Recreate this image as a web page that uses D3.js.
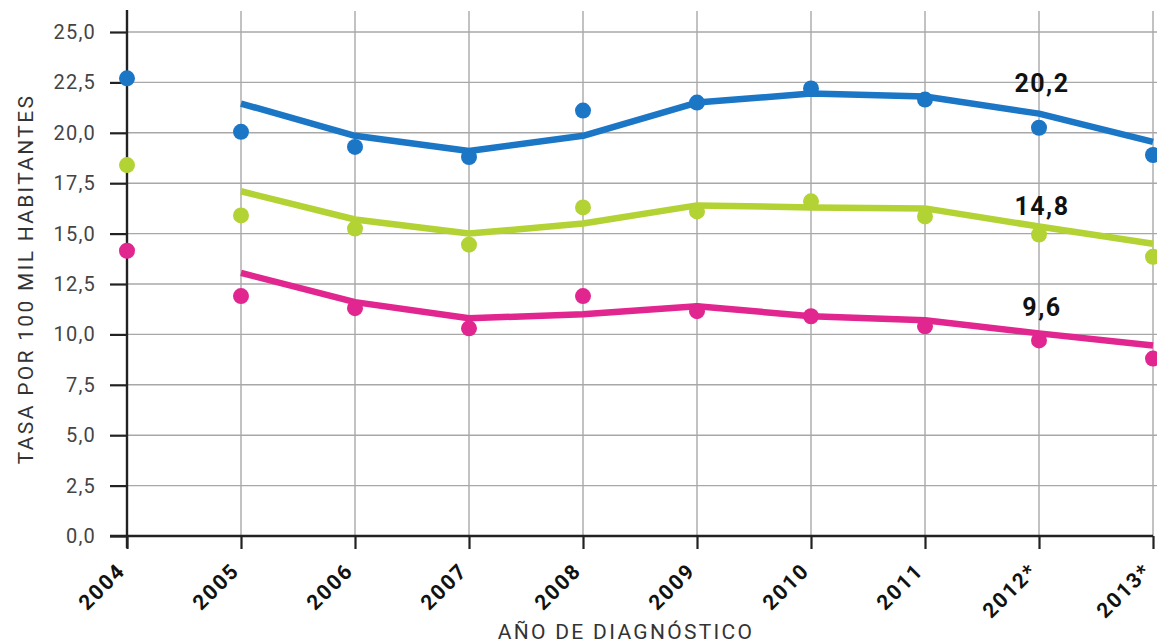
<!DOCTYPE html>
<html lang="es">
<head>
<meta charset="UTF-8">
<title>Tasa por 100 mil habitantes</title>
<style>
    body { margin: 0; padding: 0; background: #fff; }
    svg { display: block; }
    .grid line { stroke: #a8a8a8; stroke-width: 1.4px; }
    .ytick text { font-family: Roboto, "DejaVu Sans Condensed", sans-serif; font-size: 20px; fill: #444; letter-spacing: 1.2px; }
    .xtick text { font-family: Roboto, "DejaVu Sans Condensed", sans-serif; font-size: 21px; font-weight: bold; fill: #111; letter-spacing: 1.8px; }
    .title { font-family: Roboto, sans-serif; font-size: 21px; fill: #333; letter-spacing: 2.3px; }
    .endlabel { font-family: Roboto, sans-serif; font-size: 25px; font-weight: bold; fill: #111; letter-spacing: 1.5px; }
</style>
</head>
<body>
<svg id="chart" width="1157" height="643"></svg>

<script src="https://d3js.org/d3.v7.min.js"></script>
<script>
    // years on the x axis
    const years = ["2004", "2005", "2006", "2007", "2008", "2009", "2010", "2011", "2012*", "2013*"];
    const yTicks = [0, 2.5, 5, 7.5, 10, 12.5, 15, 17.5, 20, 22.5, 25];

    // observed rates (dots)
    const blueDots  = [22.7, 20.05, 19.3, 18.8, 21.1, 21.5, 22.2, 21.65, 20.25, 18.9];
    const greenDots = [18.4, 15.9, 15.25, 14.45, 16.3, 16.1, 16.6, 15.85, 14.95, 13.85];
    const pinkDots  = [14.15, 11.9, 11.3, 10.3, 11.9, 11.15, 10.9, 10.4, 9.7, 8.8];

    // trend lines (start at 2005)
    const blueLine  = [null, 21.45, 19.85, 19.1, 19.85, 21.5, 21.95, 21.8, 20.95, 19.55];
    const greenLine = [null, 17.1, 15.7, 15.0, 15.5, 16.4, 16.3, 16.25, 15.35, 14.5];
    const pinkLine  = [null, 13.05, 11.6, 10.8, 11.0, 11.4, 10.9, 10.7, 10.05, 9.45];

    const endLabels = ["20,2", "14,8", "9,6"];

    const series = [
        { color: "#1b76c6", dots: blueDots, line: blueLine, label: endLabels[0], labelValue: 22.0 },
        { color: "#b3d234", dots: greenDots, line: greenLine, label: endLabels[1], labelValue: 15.9 },
        { color: "#e1268f", dots: pinkDots, line: pinkLine, label: endLabels[2], labelValue: 10.9 }
    ];

    const svg = d3.select("#chart");
    const mLeft = 127, mRight = 1153, mTop = 32, mBottom = 536;

    const x = d3.scalePoint().domain(years).range([mLeft, mRight]);
    const y = d3.scaleLinear().domain([0, 25]).range([mBottom, mTop]);
    const fmt = d => d.toFixed(1).replace(".", ",");

    // horizontal grid
    svg.append("g").attr("class", "grid")
        .selectAll("line").data(yTicks.filter(d => d > 0)).enter().append("line")
        .attr("x1", mLeft).attr("x2", 1157)
        .attr("y1", d => y(d)).attr("y2", d => y(d));

    // vertical grid
    svg.append("g").attr("class", "grid")
        .selectAll("line").data(years.slice(1)).enter().append("line")
        .attr("x1", d => x(d)).attr("x2", d => x(d))
        .attr("y1", 11).attr("y2", mBottom);

    // y axis
    const yAxis = svg.append("g")
        .attr("class", "ytick")
        .attr("transform", "translate(" + mLeft + ",0)")
        .call(d3.axisLeft(y).tickValues(yTicks).tickFormat(fmt).tickSize(17).tickPadding(14));
    yAxis.select(".domain").remove();
    yAxis.selectAll("line").attr("stroke", "#222").attr("stroke-width", 2.2);
    svg.append("line")
        .attr("x1", mLeft).attr("x2", mLeft).attr("y1", 10).attr("y2", mBottom + 12)
        .attr("stroke", "#222").attr("stroke-width", 2.4);

    // x axis
    const xAxis = svg.append("g")
        .attr("class", "xtick")
        .attr("transform", "translate(0," + mBottom + ")")
        .call(d3.axisBottom(x).tickSize(13).tickSizeOuter(0));
    xAxis.select(".domain").remove();
    xAxis.selectAll("line").attr("stroke", "#222").attr("stroke-width", 2.2);
    xAxis.selectAll("text")
        .attr("x", 0).attr("y", 0).attr("dy", 0)
        .attr("text-anchor", "end")
        .attr("transform", "translate(-1,36) rotate(-45)");
    svg.append("line")
        .attr("x1", 110).attr("x2", mRight).attr("y1", mBottom).attr("y2", mBottom)
        .attr("stroke", "#222").attr("stroke-width", 2.4);

    // series
    const line = d3.line()
        .defined(d => d.v !== null)
        .x(d => x(d.year))
        .y(d => y(d.v));

    series.forEach(s => {
        svg.append("path")
            .datum(years.map((yr, i) => ({ year: yr, v: s.line[i] })))
            .attr("d", line)
            .attr("fill", "none")
            .attr("stroke", s.color)
            .attr("stroke-width", 6.5)
            .attr("stroke-linejoin", "round");

        svg.append("g").selectAll("circle")
            .data(years.map((yr, i) => ({ year: yr, v: s.dots[i] })))
            .enter().append("circle")
            .attr("cx", d => x(d.year))
            .attr("cy", d => y(d.v))
            .attr("r", 8)
            .attr("fill", s.color);

        svg.append("text")
            .attr("class", "endlabel")
            .attr("x", x("2012*") + 3)
            .attr("y", y(s.labelValue))
            .attr("text-anchor", "middle")
            .text(s.label);
    });

    // axis titles
    svg.append("text")
        .attr("class", "title")
        .attr("transform", "translate(33,279) rotate(-90)")
        .attr("text-anchor", "middle")
        .text("TASA POR 100 MIL HABITANTES");

    svg.append("text")
        .attr("class", "title")
        .attr("x", 626).attr("y", 639)
        .attr("text-anchor", "middle")
        .text("AÑO DE DIAGNÓSTICO");
</script>
</body>
</html>
